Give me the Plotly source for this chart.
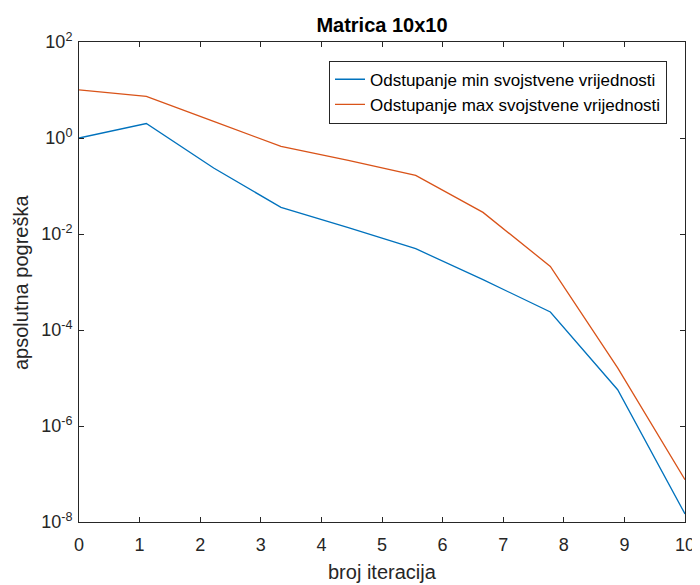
import plotly.graph_objects as go

iteracije = [0, 1.111, 2.222, 3.333, 4.444, 5.556, 6.667, 7.778, 8.889, 10]
odst_min = [1.0, 2.0, 0.237, 0.0358, 0.0135, 0.00494, 0.00112, 2.37e-4, 5.7e-6, 1.47e-8]
odst_max = [10.1, 7.36, 2.22, 0.668, 0.343, 0.166, 0.0282, 0.00211, 1.62e-5, 7.6e-8]
x_ticks = list(range(0, 11))
y_tickvals = [1e-8, 1e-6, 1e-4, 1e-2, 1e0, 1e2]
y_ticktext = ["10<sup>-8</sup>", "10<sup>-6</sup>", "10<sup>-4</sup>", "10<sup>-2</sup>",
              "10<sup>0</sup>", "10<sup>2</sup>"]

FONT = "Liberation Sans, Arial, Helvetica"
GRAY = "#262626"

fig = go.Figure()
fig.add_trace(go.Scatter(x=iteracije, y=odst_min, mode="lines",
                         name="Odstupanje min svojstvene vrijednosti",
                         line=dict(color="#0072BD", width=1.3)))
fig.add_trace(go.Scatter(x=iteracije, y=odst_max, mode="lines",
                         name="Odstupanje max svojstvene vrijednosti",
                         line=dict(color="#D95319", width=1.3)))

axis_common = dict(showline=True, linecolor=GRAY, linewidth=1, mirror="ticks",
                   ticks="inside", ticklen=5, tickcolor=GRAY, showgrid=False,
                   zeroline=False, tickfont=dict(size=18, color=GRAY, family=FONT))

W, H = 692, 577
L, R, T, B = 71, 15, 34, 63
pw, ph = W - L - R, H - T - B

fig.update_layout(
    width=W, height=H,
    margin=dict(l=L, r=R, t=T, b=B, autoexpand=False),
    paper_bgcolor="white", plot_bgcolor="white",
    font=dict(family=FONT, color=GRAY),
    title=dict(text="<b>Matrica 10x10</b>", x=374 / W, xanchor="center",
               y=1 - 17 / H, yanchor="middle",
               font=dict(size=20, color="black", family=FONT)),
    xaxis=dict(range=[0, 10], tickvals=x_ticks, ticklabelstandoff=6, **axis_common),
    yaxis=dict(type="log", range=[-8, 2], tickvals=y_tickvals, ticktext=y_ticktext,
               ticklabelstandoff=2, **axis_common),
    legend=dict(x=(659 - L) / pw, xanchor="right", y=(H - B - 52.7) / ph, yanchor="top",
                bordercolor=GRAY, borderwidth=1, bgcolor="white",
                font=dict(size=17, color="black", family=FONT),
                tracegroupgap=0),
    showlegend=True,
)

fig.add_annotation(text="broj iteracija", xref="paper", yref="paper",
                   x=(374 - L) / pw, y=(H - B - 564) / ph, xanchor="center", yanchor="middle",
                   showarrow=False, font=dict(size=20, color=GRAY, family=FONT))
fig.add_annotation(text="apsolutna pogreška", xref="paper", yref="paper",
                   x=(12.5 - L) / pw, y=(H - B - 274.5) / ph, xanchor="center", yanchor="middle",
                   textangle=-90, showarrow=False,
                   font=dict(size=20, color=GRAY, family=FONT))

fig.write_html("out.html")
